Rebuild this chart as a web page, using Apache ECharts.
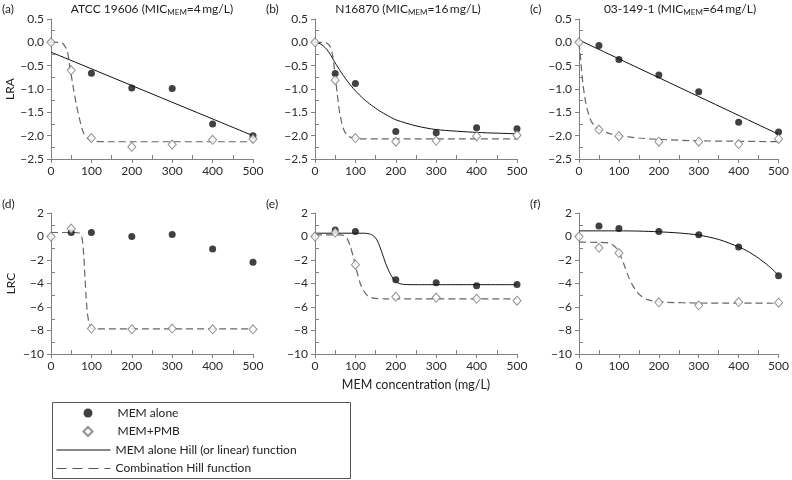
<!DOCTYPE html>
<html><head><meta charset="utf-8">
<script src="https://cdn.jsdelivr.net/npm/echarts@6/dist/echarts.min.js"></script>
<style>html,body{margin:0;padding:0;background:#fff}#c{width:792px;height:480px}</style>
</head><body><div id="c"></div>
<script>
// ---- data ----
const xTickValues = [0, 100, 200, 300, 400, 500];
const lraTicks = [0.5, 0.0, -0.5, -1.0, -1.5, -2.0, -2.5];
const lrcTicks = [2, 0, -2, -4, -6, -8, -10];

const memConc = [50, 100, 200, 300, 400, 500];
const comboConc = [0, 50, 100, 200, 300, 400, 500];

const aMem = [null, -0.66, -0.98, -0.99, -1.75, -2.00];
const bMem = [-0.67, -0.88, -1.91, -1.94, -1.83, -1.85];
const cMem = [-0.07, -0.37, -0.70, -1.06, -1.71, -1.92];
const dMem = [0.34, 0.34, 0.00, 0.18, -1.07, -2.20];
const eMem = [0.56, 0.42, -3.69, -3.94, -4.20, -4.08];
const fMem = [0.90, 0.68, 0.42, 0.14, -0.90, -3.35];

const aCombo = [0, -0.60, -2.05, -2.24, -2.19, -2.09, -2.07];
const bCombo = [0, -0.81, -2.05, -2.13, -2.11, -2.01, -1.99];
const cCombo = [0, -1.87, -2.01, -2.13, -2.13, -2.18, -2.07];
const dCombo = [0, 0.68, -7.83, -7.90, -7.83, -7.90, -7.90];
const eCombo = [0, 0.34, -2.40, -5.13, -5.20, -5.30, -5.46];
const fCombo = [0, -0.96, -1.41, -5.60, -5.86, -5.58, -5.63];

// fitted curves
const aMemFitX = [0, 500];
const aMemFit = [-0.21, -2.00];
const bMemFitX = [0, 10, 20, 30, 40, 50, 60, 70, 80, 90, 100, 120, 140, 160, 180, 200, 250, 300, 400, 500];
const bMemFit = [0, -0.02, -0.07, -0.16, -0.29, -0.44, -0.58, -0.71, -0.83, -0.94, -1.04, -1.21, -1.35, -1.47, -1.57, -1.66, -1.79, -1.87, -1.93, -1.96];
const cMemFitX = [0, 500];
const cMemFit = [0.05, -1.97];
const eMemFitX = [0, 120, 135, 145, 155, 165, 175, 185, 195, 205, 220, 250, 500];
const eMemFit = [0.28, 0.28, 0.22, 0.05, -0.40, -1.30, -2.30, -3.10, -3.65, -3.95, -4.08, -4.10, -4.10];
const fMemFitX = [0, 100, 150, 200, 250, 300, 350, 400, 425, 450, 475, 500];
const fMemFit = [0.48, 0.48, 0.46, 0.40, 0.30, 0.12, -0.25, -0.88, -1.30, -1.85, -2.50, -3.30];

const aComboFitX = [0, 20, 30, 40, 47, 55, 62, 70, 80, 92, 110, 140, 500];
const aComboFit = [0, 0, -0.03, -0.18, -0.54, -0.96, -1.30, -1.62, -1.93, -2.07, -2.12, -2.13, -2.13];
const bComboFitX = [0, 20, 30, 38, 44, 50, 55, 60, 66, 72, 80, 90, 110, 500];
const bComboFit = [0, 0, -0.02, -0.10, -0.30, -0.72, -1.10, -1.45, -1.72, -1.89, -1.99, -2.04, -2.07, -2.07];
const cComboFitX = [0, 3, 6, 10, 15, 20, 30, 40, 50, 75, 100, 150, 200, 300, 400, 500];
const cComboFit = [0, -0.25, -0.55, -0.90, -1.20, -1.42, -1.68, -1.80, -1.87, -1.95, -2.00, -2.05, -2.08, -2.11, -2.12, -2.13];
const dComboFitX = [0, 60, 70, 75, 78, 81, 84, 87, 90, 95, 100, 110, 500];
const dComboFit = [0.34, 0.34, 0.30, 0.10, -0.40, -1.60, -3.40, -5.20, -6.50, -7.50, -7.80, -7.87, -7.87];
const eComboFitX = [0, 60, 72, 80, 88, 96, 104, 112, 120, 130, 145, 170, 500];
const eComboFit = [0.14, 0.14, 0.08, -0.20, -0.90, -1.90, -3.00, -4.00, -4.60, -5.05, -5.25, -5.30, -5.30];
const fComboFitX = [0, 50, 75, 85, 95, 105, 115, 125, 135, 145, 155, 170, 190, 220, 300, 500];
const fComboFit = [-0.48, -0.50, -0.56, -0.72, -1.05, -1.70, -2.60, -3.50, -4.20, -4.70, -5.05, -5.35, -5.52, -5.60, -5.66, -5.68];

// ---- chart build ----
const FONT = 'Lato';
const zip = (xs, ys) => xs.map((x, i) => [x, ys[i]]).filter(p => p[1] !== null && p[1] !== undefined);

const panels = [
  {lra: true,  left: 51,  top: 19,  h: 140, mem: aMem, combo: aCombo, mfx: aMemFitX, mf: aMemFit, cfx: aComboFitX, cf: aComboFit, yName: 'LRA'},
  {lra: true,  left: 315, top: 19,  h: 140, mem: bMem, combo: bCombo, mfx: bMemFitX, mf: bMemFit, cfx: bComboFitX, cf: bComboFit},
  {lra: true,  left: 579, top: 19,  h: 140, mem: cMem, combo: cCombo, mfx: cMemFitX, mf: cMemFit, cfx: cComboFitX, cf: cComboFit},
  {lra: false, left: 51,  top: 213, h: 141, mem: dMem, combo: dCombo, mfx: null, mf: null, cfx: dComboFitX, cf: dComboFit, yName: 'LRC'},
  {lra: false, left: 315, top: 213, h: 141, mem: eMem, combo: eCombo, mfx: eMemFitX, mf: eMemFit, cfx: eComboFitX, cf: eComboFit, xName: 'MEM concentration (mg/L)'},
  {lra: false, left: 579, top: 213, h: 141, mem: fMem, combo: fCombo, mfx: fMemFitX, mf: fMemFit, cfx: fComboFitX, cf: fComboFit}
];

const AX = '#808080';
const grid = [], xAxis = [], yAxis = [], series = [];
panels.forEach((p, i) => {
  grid.push({left: p.left, top: p.top, width: 202, height: p.h});
  const yT = p.lra ? lraTicks : lrcTicks;
  const yMin = Math.min(...yT), yMax = Math.max(...yT), yInt = Math.abs(yT[0] - yT[1]);
  const xMin = Math.min(...xTickValues), xMax = Math.max(...xTickValues), xInt = xTickValues[1] - xTickValues[0];
  xAxis.push({
    gridIndex: i, type: 'value', min: xMin, max: xMax, interval: xInt, position: 'bottom',
    axisLine: {onZero: false, lineStyle: {color: AX, width: 1}},
    axisTick: {length: 4, lineStyle: {color: AX}},
    axisLabel: {color: '#2a2a2a', fontSize: 12, fontFamily: FONT, margin: 6},
    splitLine: {show: false},
    name: p.xName || '', nameLocation: 'middle', nameGap: 24,
    nameTextStyle: {color: '#222', fontSize: 12.5, fontFamily: FONT}
  });
  xAxis.push({
    gridIndex: i, type: 'value', min: xMin, max: xMax, interval: xInt, position: 'bottom',
    axisLine: {show: false, onZero: false},
    axisTick: {show: false, inside: true},
    minorTick: {show: true, splitNumber: 2, length: 4, lineStyle: {color: AX}},
    axisLabel: {show: false}, splitLine: {show: false}
  });
  yAxis.push({
    gridIndex: i, type: 'value', min: yMin, max: yMax, interval: yInt, position: 'left',
    axisLine: {show: true, onZero: false, lineStyle: {color: AX, width: 1}},
    axisTick: {show: true, length: 4, lineStyle: {color: AX}},
    axisLabel: {color: '#2a2a2a', fontSize: 12, fontFamily: FONT, margin: 7,
      formatter: v => (p.lra ? v.toFixed(1) : String(Math.round(v))).replace('-', '\u2212')},
    splitLine: {show: false},
    name: p.yName || '', nameLocation: 'middle', nameGap: 34,
    nameTextStyle: {color: '#222', fontSize: 12, fontFamily: FONT}
  });
  yAxis.push({
    gridIndex: i, type: 'value', min: yMin, max: yMax, interval: yInt, position: 'left',
    axisLine: {show: false, onZero: false},
    axisTick: {show: false, inside: true},
    minorTick: {show: true, splitNumber: 2, length: 4, lineStyle: {color: AX}},
    axisLabel: {show: false}, splitLine: {show: false}
  });
  const xi = 2 * i, yi = 2 * i;
  series.push({
    name: 'Combination Hill function', type: 'line', xAxisIndex: xi, yAxisIndex: yi,
    data: zip(p.cfx, p.cf), symbol: 'none', smooth: 0.25, z: 2,
    lineStyle: {color: '#666', width: 1.2, type: [7, 4]}, itemStyle: {color: '#666'}
  });
  if (p.mfx) {
    series.push({
      name: 'MEM alone Hill (or linear) function', type: 'line', xAxisIndex: xi, yAxisIndex: yi,
      data: zip(p.mfx, p.mf), symbol: 'none', smooth: 0.25, z: 3,
      lineStyle: {color: '#111', width: 1}, itemStyle: {color: '#111'}
    });
  }
  series.push({
    name: 'MEM alone', type: 'scatter', xAxisIndex: xi, yAxisIndex: yi,
    data: zip(memConc, p.mem), symbol: 'circle', symbolSize: 7, z: 4,
    itemStyle: {color: '#111'}
  });
  series.push({
    name: 'MEM+PMB', type: 'scatter', xAxisIndex: xi, yAxisIndex: yi,
    data: zip(comboConc, p.combo), symbol: 'diamond', symbolSize: [8, 9], z: 5,
    itemStyle: {color: '#fff', borderColor: '#777', borderWidth: 1}
  });
});

const titleTxt = (x, y, text) => ({
  type: 'text', x: x, y: y, silent: true,
  style: {text: text, fill: '#222', fontSize: 12, fontFamily: FONT, align: 'center', verticalAlign: 'middle',
    rich: {s: {fontSize: 8, fontFamily: FONT, fill: '#222', padding: [6, 0, 0, 0]}}}
});
const lbl = (x, y, t) => ({
  type: 'text', x: x, y: y, silent: true,
  style: {text: t, fill: '#222', fontSize: 12, fontFamily: FONT, align: 'left', verticalAlign: 'middle'}
});

const graphic = [
  lbl(2, 9, '(a)'), lbl(266, 9, '(b)'), lbl(530, 9, '(c)'),
  lbl(2, 204, '(d)'), lbl(266, 204, '(e)'), lbl(530, 204, '(f)'),
  titleTxt(152, 9, 'ATCC 19606 (MIC{s|MEM}=4\u2009mg/L)'),
  titleTxt(408, 9, 'N16870 (MIC{s|MEM}=16\u2009mg/L)'),
  titleTxt(680, 9, '03-149-1 (MIC{s|MEM}=64\u2009mg/L)'),
  {type: 'rect', silent: true, shape: {x: 52.5, y: 402.5, width: 298, height: 76},
   style: {fill: 'none', stroke: '#555', lineWidth: 1}}
];

const legendText = {fontSize: 12, fontFamily: FONT, color: '#222', lineHeight: 14};
const option = {
  animation: false,
  backgroundColor: '#fff',
  grid, xAxis, yAxis, series, graphic,
  legend: [
    {data: ['MEM alone', 'MEM+PMB'], orient: 'vertical', left: 82.5, top: 406,
     itemWidth: 9, itemHeight: 9, itemGap: 4.5, selectedMode: false, padding: 0,
     textStyle: Object.assign({padding: [0, 0, 0, 20]}, legendText)},
    {data: [
       {name: 'MEM alone Hill (or linear) function', lineStyle: {width: 1, color: '#111'}},
       {name: 'Combination Hill function', lineStyle: {width: 1, color: '#555', type: [10, 6]}}
     ], orient: 'vertical', left: 56, top: 443,
     itemWidth: 54, itemHeight: 14, itemGap: 4.5, selectedMode: false, textStyle: legendText, padding: 0,
     itemStyle: {opacity: 0}, lineStyle: {width: 1}}
  ]
};
const chart = echarts.init(document.getElementById('c'), null, {renderer: 'canvas'});
chart.setOption(option);
</script></body></html>
